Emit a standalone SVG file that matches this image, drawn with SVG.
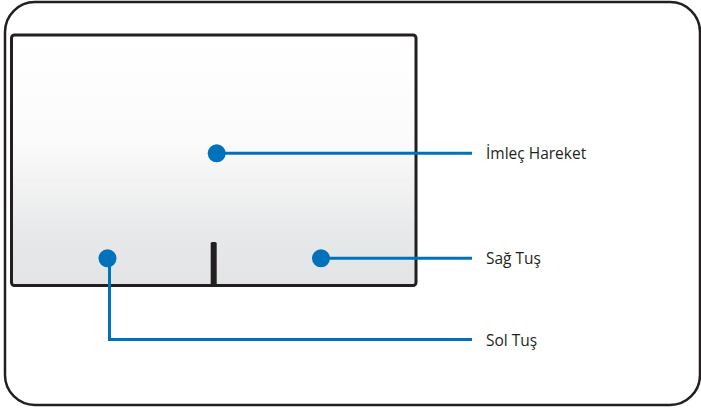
<svg xmlns="http://www.w3.org/2000/svg" width="701" height="410" viewBox="0 0 701 410">
<defs>
<linearGradient id="pad" x1="0" y1="0" x2="0" y2="1">
<stop offset="0" stop-color="#ffffff"/>
<stop offset="0.42" stop-color="#fbfbfb"/>
<stop offset="0.8" stop-color="#e7e8e9"/>
<stop offset="1" stop-color="#e3e4e5"/>
</linearGradient>
<style>
.frame{fill:#ffffff;stroke:#231f20;stroke-width:2.5}
.pad{fill:url(#pad);stroke:#231f20;stroke-width:3}
.line{fill:none;stroke:#0072bc;stroke-width:3}
.dot{fill:#0072bc}
.lbl{font-family:"Open Sans","Noto Sans",sans-serif;font-size:15.5px;fill:#231f20}
</style>
</defs>
<g id="device">
<rect class="frame" x="5" y="2" width="695" height="403" rx="30" ry="30"/>
</g>
<g id="touchpad">
<rect class="pad" x="11.5" y="35" width="404.5" height="250.5" rx="3" ry="3"/>
<rect x="210.7" y="242" width="6" height="43" rx="1.5" fill="#231f20"/>
</g>
<g id="connectors">
<line class="line" x1="217" y1="153.3" x2="472" y2="153.3"/>
<line class="line" x1="321" y1="258.3" x2="472" y2="258.3"/>
<polyline class="line" points="109.5,258.3 109.5,339.5 472,339.5"/>
</g>
<g id="imlec">
<circle class="dot" cx="216.7" cy="153.3" r="9"/>
<text class="lbl" x="486" y="158.5">İmleç Hareket</text>
</g>
<g id="sag">
<circle class="dot" cx="321" cy="258.3" r="9"/>
<text class="lbl" x="486" y="264">Sağ Tuş</text>
</g>
<g id="sol">
<circle class="dot" cx="107.5" cy="258.3" r="9"/>
<text class="lbl" x="486" y="346">Sol Tuş</text>
</g>
</svg>
